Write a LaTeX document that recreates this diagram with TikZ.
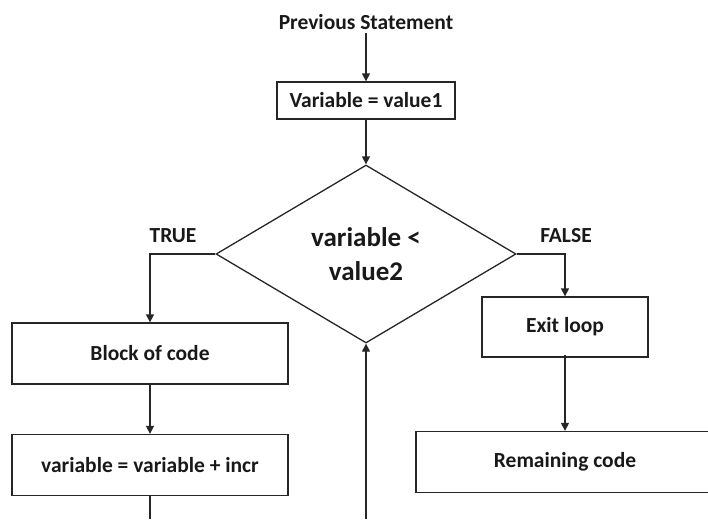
\documentclass[tikz,border=0pt]{standalone}
\usepackage{fontspec}
\setmainfont{Carlito}
\usetikzlibrary{shapes.geometric,arrows.meta}

\begin{document}
\begin{tikzpicture}[x=1pt,y=-1pt,
  every node/.style={font=\bfseries\fontsize{21.5}{25}\selectfont, text=black!90},
  box/.style={draw=black!85, line width=1.3pt, rectangle, inner sep=0pt},
  decision/.style={draw=black!85, line width=1.3pt, diamond, inner sep=0pt,
    minimum width=300pt, minimum height=178pt, align=center,
    font=\bfseries\fontsize{27}{33.5}\selectfont},
  link/.style={draw=black!85, line width=1.3pt},
  arr/.style={link, -{Triangle[length=8pt,width=8pt]}},
  tag/.style={font=\bfseries\fontsize{21.5}{24}\selectfont}
]
\useasboundingbox (0,0) rectangle (708,519);
\clip (0,0) rectangle (708,519);

% start of the loop
\node (prev) at (366,22) {Previous Statement};
\node[box, minimum width=178pt, minimum height=37pt] (init) at (366,100.5) {Variable = value1};

% loop condition
\node[decision] (cond) at (366,254) {variable <\\value2};

% true branch
\node[box, minimum width=276pt, minimum height=61pt] (body) at (150,353.5) {Block of code};
\node[box, minimum width=276pt, minimum height=61pt] (incr) at (150,465) {variable = variable + incr};

% false branch
\node[box, minimum width=166pt, minimum height=60pt] (exit) at (565,327) {Exit loop};
\node[box, minimum width=298pt, minimum height=61pt] (rest) at (565,462) {Remaining code};

% branch labels
\node[tag] (ttrue) at (173,236) {TRUE};
\node[tag] (tfalse) at (566,236) {FALSE};

% loose ends at the bottom edge
\coordinate (incrEnd) at (150,519);
\coordinate (backStart) at (366,519);

% connectors
\draw[arr] (prev.south) -- (init.north);
\draw[arr] (init.south) -- (cond.north);
\draw[arr] (cond.west) -| (body.north);
\draw[arr] (body.south) -- (incr.north);
\draw[link] (incr.south) -- (incrEnd);
\draw[arr] (cond.east) -| (exit.north);
\draw[arr] ([yshift=3pt]exit.south) -- (rest.north);
\draw[arr] (backStart) -- (cond.south);
\end{tikzpicture}
\end{document}
